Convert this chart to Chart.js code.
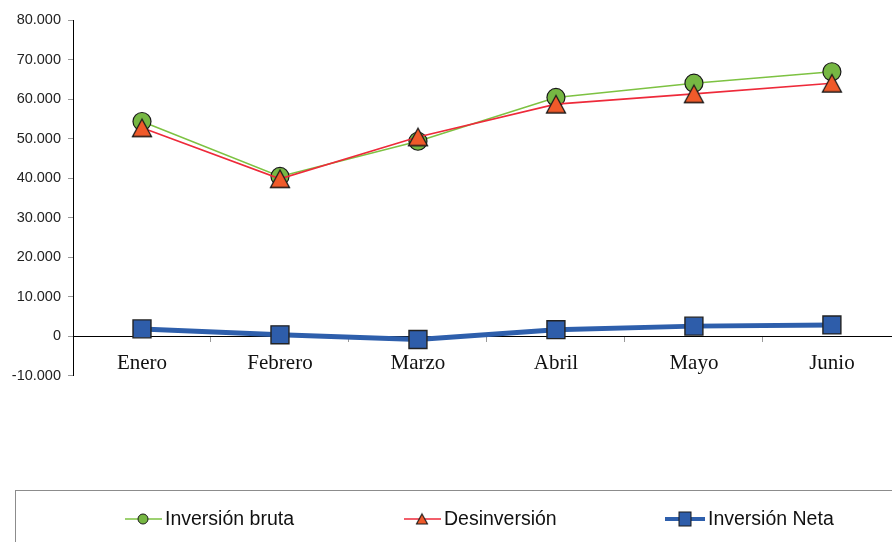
<!DOCTYPE html>
<html>
<head>
<meta charset="utf-8">
<script src="https://cdn.jsdelivr.net/npm/chart.js@4"></script>
<style>
html,body{margin:0;padding:0;background:#fff;overflow:hidden;width:892px;height:542px;}
#wrap{position:absolute;left:0;top:0;width:915px;height:542px;}
</style>
</head>
<body>
<div id="wrap"><canvas id="c" width="915" height="542"></canvas></div>
<script>
const categories = ['Enero', 'Febrero', 'Marzo', 'Abril', 'Mayo', 'Junio'];
const inversionBruta = [54300, 40400, 49300, 60400, 64000, 66900];
const desinversion = [52700, 39800, 50400, 58700, 61300, 64000];
const inversionNeta = [1800, 300, -900, 1600, 2500, 2800];
const seriesNames = ['Inversión bruta', 'Desinversión', 'Inversión Neta'];
const yTickValues = [-10000, 0, 10000, 20000, 30000, 40000, 50000, 60000, 70000, 80000];
const yTickLabels = ['-10.000', '0', '10.000', '20.000', '30.000', '40.000', '50.000', '60.000', '70.000', '80.000'];

function makeTriangle(w, h, fill, stroke, lw) {
  const c = document.createElement('canvas');
  c.width = Math.ceil(w + 2 * lw + 2);
  c.height = Math.ceil(h + 2 * lw + 2);
  const g = c.getContext('2d');
  const cx = c.width / 2, cy = c.height / 2;
  g.beginPath();
  g.moveTo(cx, cy - h / 2);
  g.lineTo(cx + w / 2, cy + h / 2);
  g.lineTo(cx - w / 2, cy + h / 2);
  g.closePath();
  g.fillStyle = fill; g.fill();
  g.lineWidth = lw; g.strokeStyle = stroke; g.lineJoin = 'miter'; g.stroke();
  return c;
}
const triFill = '#F05A2A';
const triangleImg = makeTriangle(19, 17.5, triFill, '#1a1a1a', 1.3);
const triangleLegend = makeTriangle(11, 10, triFill, '#1a1a1a', 1.1);

const legendPlugin = {
  id: 'excelLegend',
  afterDraw(chart) {
    const ctx = chart.ctx;
    ctx.save();
    ctx.strokeStyle = '#8c8c8c';
    ctx.lineWidth = 1;
    ctx.strokeRect(15.5, 490.5, 920, 100);
    const y = 519;
    const items = [
      {x1: 125, x2: 162, mx: 143, tx: 165},
      {x1: 404, x2: 441, mx: 422, tx: 444},
      {x1: 665, x2: 705, mx: 685, tx: 708}
    ];
    chart.data.datasets.forEach((ds, i) => {
      const it = items[i];
      ctx.beginPath();
      ctx.strokeStyle = ds.borderColor;
      ctx.lineWidth = i === 2 ? 4 : ds.borderWidth;
      ctx.moveTo(it.x1, y); ctx.lineTo(it.x2, y); ctx.stroke();
      if (i === 0) {
        ctx.beginPath(); ctx.arc(it.mx, y, 5, 0, Math.PI * 2);
        ctx.fillStyle = ds.pointBackgroundColor; ctx.fill();
        ctx.lineWidth = 1; ctx.strokeStyle = '#1a1a1a'; ctx.stroke();
      } else if (i === 1) {
        ctx.drawImage(triangleLegend, it.mx - triangleLegend.width / 2, y - triangleLegend.height / 2);
      } else {
        ctx.fillStyle = ds.pointBackgroundColor;
        ctx.fillRect(it.mx - 6, y - 7, 12, 14);
        ctx.lineWidth = 1; ctx.strokeStyle = '#1a1a1a';
        ctx.strokeRect(it.mx - 6, y - 7, 12, 14);
      }
      ctx.fillStyle = '#111';
      ctx.font = '19.5px "Liberation Sans", Arial, sans-serif';
      ctx.textBaseline = 'middle';
      ctx.textAlign = 'left';
      ctx.fillText(ds.label, it.tx, y + 1);
    });
    ctx.restore();
  }
};

new Chart(document.getElementById('c'), {
  type: 'line',
  data: {
    labels: categories,
    datasets: [
      {
        label: seriesNames[0], data: inversionBruta, order: 3,
        borderColor: '#7DC242', borderWidth: 1.6, tension: 0,
        pointStyle: 'circle', pointRadius: 9, pointHoverRadius: 9,
        pointBackgroundColor: '#76B743', pointBorderColor: '#1a1a1a', pointBorderWidth: 1.2
      },
      {
        label: seriesNames[1], data: desinversion, order: 2,
        borderColor: '#EE2A3A', borderWidth: 1.6, tension: 0,
        pointStyle: triangleImg, pointRadius: 9, pointHoverRadius: 9,
        pointBackgroundColor: triFill, pointBorderColor: '#1a1a1a'
      },
      {
        label: seriesNames[2], data: inversionNeta, order: 1,
        borderColor: '#2E5FAC', borderWidth: 5, tension: 0,
        pointStyle: 'rect', pointRadius: 12.7, pointHoverRadius: 12.7,
        pointBackgroundColor: '#2E5DAA', pointBorderColor: '#222', pointBorderWidth: 1.4
      }
    ]
  },
  options: {
    responsive: false,
    animation: false,
    events: [],
    layout: {padding: {top: 20, bottom: 166.5, left: 0, right: 0}},
    plugins: {legend: {display: false}, tooltip: {enabled: false}},
    scales: {
      x: {
        type: 'category',
        position: {y: 0},
        offset: true,
        grid: {offset: true, drawOnChartArea: false, tickLength: 5, color: '#9a9a9a'},
        border: {color: '#000', width: 1},
        ticks: {
          font: {family: '"Liberation Serif", "Times New Roman", serif', size: 21},
          color: '#111', padding: 10, maxRotation: 0, autoSkip: false
        },
        afterFit(s) { s.paddingLeft = 0; s.paddingRight = 0; }
      },
      y: {
        min: -10000, max: 80000,
        afterBuildTicks(s) { s.ticks = yTickValues.map(v => ({value: v})); },
        grid: {drawOnChartArea: false, tickLength: 5, color: '#9a9a9a'},
        border: {color: '#000', width: 1},
        ticks: {
          font: {family: '"Liberation Sans", Arial, sans-serif', size: 14.5},
          color: '#222', padding: 7,
          callback: (v) => yTickLabels[yTickValues.indexOf(v)]
        },
        afterFit(s) { s.width = 73; s.paddingTop = 0; s.paddingBottom = 0; }
      }
    }
  },
  plugins: [legendPlugin]
});
</script>
</body>
</html>
